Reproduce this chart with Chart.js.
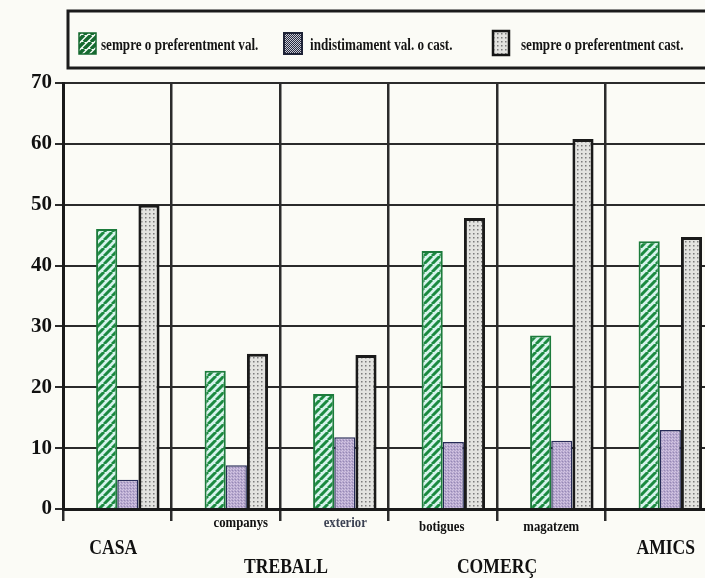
<!DOCTYPE html>
<html>
<head>
<meta charset="utf-8">
<script src="https://cdn.jsdelivr.net/npm/chart.js@4.4.0/dist/chart.umd.min.js"></script>
<style>
  html, body { margin: 0; padding: 0; overflow: hidden; background: #fbfbf6; }
  canvas { display: block; }
</style>
</head>
<body>
<canvas id="chart" width="714" height="578"></canvas>
<script>
// dades
const categories = ['CASA', 'companys', 'exterior', 'botigues', 'magatzem', 'AMICS'];
const seriesNames = ['sempre o preferentment val.', 'indistimament val. o cast.', 'sempre o preferentment cast.'];
const valValues = [46, 22.7, 18.9, 42.4, 28.5, 44];
const indValues = [4.8, 7.2, 11.8, 11, 11.2, 13];
const castValues = [50, 25.5, 25.3, 47.8, 60.8, 44.7];
const groupLabels = ['TREBALL', 'COMERÇ'];
const groupSpans = [[1, 2], [3, 4]];
const yMin = 0, yMax = 70, yStep = 10;

const serif = '"Liberation Serif", "DejaVu Serif", serif';

function makePattern(w, h, draw) {
    const c = document.createElement('canvas');
    c.width = w; c.height = h;
    const g = c.getContext('2d');
    draw(g, w, h);
    return g.createPattern(c, 'repeat');
}

function hatch(bg, fg, size, lw) {
    return makePattern(size, size, (g, w, h) => {
        g.fillStyle = bg;
        g.fillRect(0, 0, w, h);
        g.strokeStyle = fg;
        g.lineWidth = lw;
        g.beginPath();
        [-w, 0, w].forEach(k => { g.moveTo(k, h); g.lineTo(k + w, 0); });
        g.stroke();
    });
}

const greenFill = hatch('#d6f3ec', '#1b8a40', 8, 3);
const greenIcon = hatch('#f4fbf6', '#15692f', 7, 3.5);

const purpleFill = makePattern(3, 3, (g) => {
    g.fillStyle = '#b7a9cf'; g.fillRect(0, 0, 3, 3);
    g.fillStyle = '#d5c6e3'; g.fillRect(0, 0, 1, 1); g.fillRect(2, 1, 1, 1);
    g.fillStyle = '#9687b4'; g.fillRect(1, 2, 1, 1);
});
const purpleIcon = makePattern(2, 2, (g) => {
    g.fillStyle = '#262a40'; g.fillRect(0, 0, 2, 2);
    g.fillStyle = '#c9c9d2'; g.fillRect(0, 0, 1, 1); g.fillRect(1, 1, 1, 1);
});

const grayFill = makePattern(4, 4, (g) => {
    g.fillStyle = '#e3e3e0'; g.fillRect(0, 0, 4, 4);
    g.fillStyle = '#7b7b7b'; g.fillRect(1, 1, 1.5, 1.5);
});

function drawText(ctx, text, x, y, size, sx, color) {
    ctx.save();
    ctx.translate(x, y);
    ctx.scale(sx, 1);
    ctx.font = 'bold ' + size + 'px ' + serif;
    ctx.fillStyle = color;
    ctx.fillText(text, 0, 0);
    ctx.restore();
}

// fons de pàgina
const background = {
    id: 'background',
    beforeDraw(chart) {
        const ctx = chart.ctx;
        ctx.save();
        ctx.fillStyle = '#fbfbf6';
        ctx.fillRect(0, 0, chart.width, chart.height);
        ctx.restore();
    }
};

// llegenda en caixa i etiquetes de categories
const labelNudge = [-4, 15, 11, -1, 0, 6];
const bigLabel = [true, false, false, false, false, true];
const labelColor = ['#111', '#111', '#3b4152', '#111', '#111', '#111'];

const annotations = {
    id: 'annotations',
    afterDraw(chart) {
        const ctx = chart.ctx;
        const x = chart.scales.x;

        // caixa de la llegenda
        ctx.save();
        ctx.strokeStyle = '#1b1b1b';
        ctx.lineWidth = 3;
        ctx.strokeRect(68, 11, 700, 57);

        const icons = [
            { x: 79, y: 33, w: 17, h: 21, fill: greenIcon, stroke: '#15692f', lw: 1.5, tx: 101 },
            { x: 284, y: 33, w: 18, h: 21, fill: purpleIcon, stroke: '#1e2236', lw: 2, tx: 310 },
            { x: 493, y: 31, w: 16, h: 24, fill: grayFill, stroke: '#151515', lw: 2.5, tx: 521 }
        ];
        icons.forEach((it, i) => {
            ctx.fillStyle = it.fill;
            ctx.fillRect(it.x, it.y, it.w, it.h);
            ctx.strokeStyle = it.stroke;
            ctx.lineWidth = it.lw;
            ctx.strokeRect(it.x, it.y, it.w, it.h);
            ctx.textAlign = 'left';
            ctx.textBaseline = 'middle';
            drawText(ctx, seriesNames[i], it.tx, 46, 16, 0.82, '#141414');
        });

        // etiquetes de l'eix x
        ctx.textAlign = 'center';
        ctx.textBaseline = 'middle';
        categories.forEach((c, i) => {
            const px = x.getPixelForValue(i) + labelNudge[i];
            if (bigLabel[i]) {
                drawText(ctx, c, px, 548, 22, 0.8, labelColor[i]);
            } else {
                drawText(ctx, c, px, i < 3 ? 523 : 527, 15, 0.85, labelColor[i]);
            }
        });
        groupLabels.forEach((g, i) => {
            const [a, b] = groupSpans[i];
            const px = (x.getPixelForValue(a) + x.getPixelForValue(b)) / 2 + (i === 0 ? 6 : 0);
            drawText(ctx, g, px, 567, 22, 0.8, '#111');
        });
        ctx.restore();
    }
};

new Chart(document.getElementById('chart'), {
    type: 'bar',
    data: {
        labels: categories,
        datasets: [
            {   // espai buit a l'esquerra de cada grup
                label: '',
                data: categories.map(() => null),
                backgroundColor: 'rgba(0,0,0,0)'
            },
            {
                label: seriesNames[0],
                data: valValues,
                backgroundColor: greenFill,
                borderColor: '#1c7b3c',
                borderWidth: 2
            },
            {
                label: seriesNames[1],
                data: indValues,
                backgroundColor: purpleFill,
                borderColor: '#272b57',
                borderWidth: 1.5
            },
            {
                label: seriesNames[2],
                data: castValues,
                backgroundColor: grayFill,
                borderColor: '#1a1a1a',
                borderWidth: 3
            }
        ]
    },
    options: {
        responsive: false,
        animation: false,
        devicePixelRatio: 1,
        layout: { padding: { top: 83, right: 0, bottom: 0, left: 0 } },
        datasets: { bar: { categoryPercentage: 0.78, barPercentage: 1 } },
        plugins: {
            legend: { display: false },
            tooltip: { enabled: false }
        },
        scales: {
            x: {
                offset: true,
                grid: { offset: true, color: '#2b2b2b', lineWidth: 2.5, tickLength: 12 },
                border: { color: '#1a1a1a', width: 3 },
                ticks: { display: false },
                afterFit(s) { s.height = 69; }
            },
            y: {
                min: yMin,
                max: yMax,
                ticks: {
                    stepSize: yStep,
                    color: '#111',
                    padding: 3,
                    font: { family: serif, weight: 'bold', size: 21 }
                },
                grid: { color: '#2b2b2b', lineWidth: 2, tickLength: 8 },
                border: { color: '#1a1a1a', width: 3 },
                afterFit(s) { s.width = 63; }
            }
        }
    },
    plugins: [background, annotations]
});
</script>
</body>
</html>
